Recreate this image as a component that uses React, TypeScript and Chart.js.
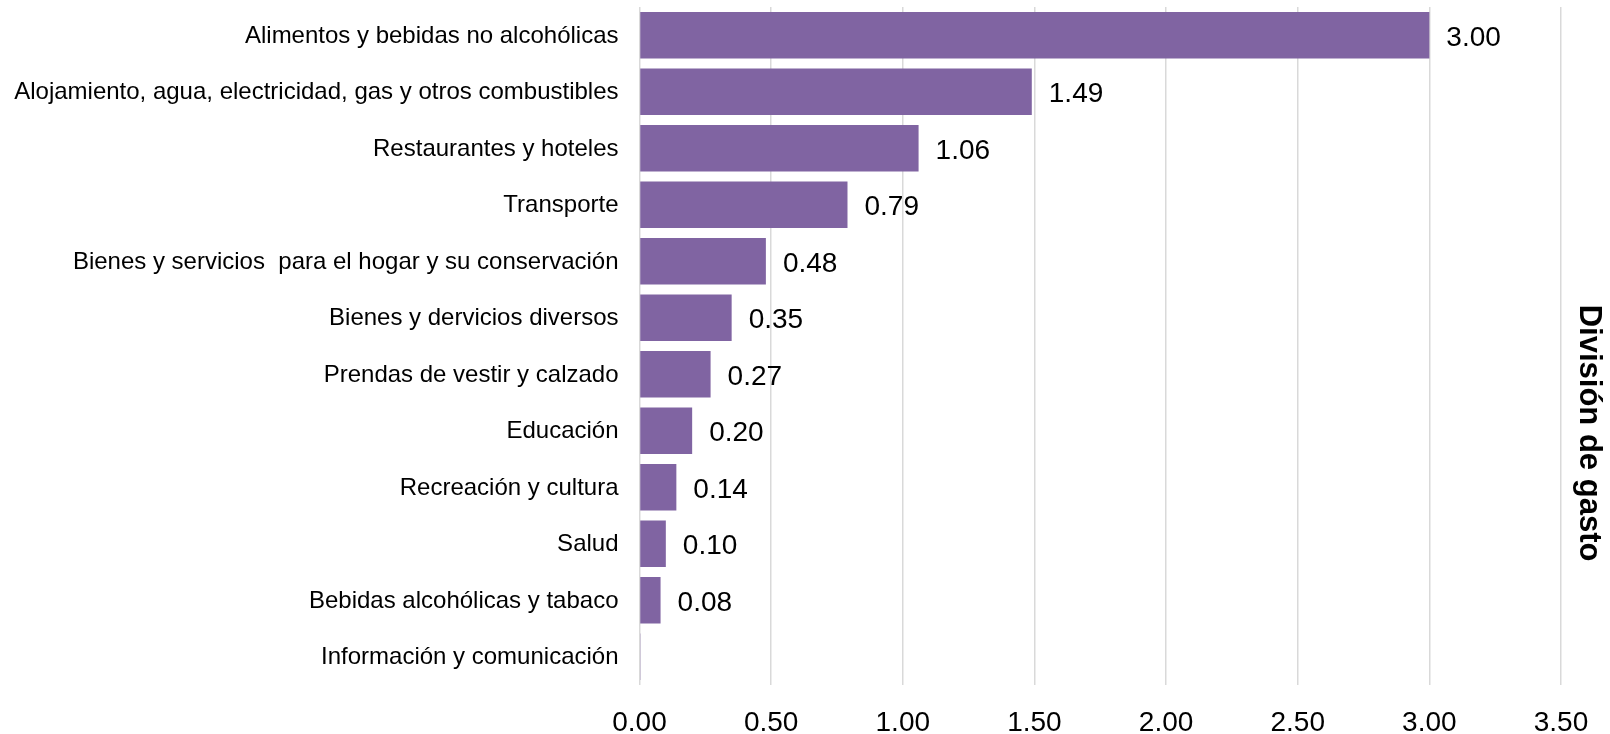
import React, { useEffect, useRef } from "react";
import { Chart, registerables } from "chart.js";

Chart.register(...registerables);

const categories = [
  "Alimentos y bebidas no alcohólicas",
  "Alojamiento, agua, electricidad, gas y otros combustibles",
  "Restaurantes y hoteles",
  "Transporte",
  "Bienes y servicios  para el hogar y su conservación",
  "Bienes y dervicios diversos",
  "Prendas de vestir y calzado",
  "Educación",
  "Recreación y cultura",
  "Salud",
  "Bebidas alcohólicas y tabaco",
  "Información y comunicación",
];

const values = [3.0, 1.49, 1.06, 0.79, 0.48, 0.35, 0.27, 0.2, 0.14, 0.1, 0.08, 0];

const xTickMin = 0;
const xTickMax = 3.5;
const xTickStep = 0.5;

const sideTitle = "División de gasto";

const FONT = "'Liberation Sans', Arial, sans-serif";

const dataLabelPlugin = {
  id: "dataLabels",
  afterDatasetsDraw(chart: any) {
    const ctx = chart.ctx;
    const meta = chart.getDatasetMeta(0);
    ctx.save();
    ctx.font = `28px ${FONT}`;
    ctx.fillStyle = "#000000";
    ctx.textAlign = "left";
    ctx.textBaseline = "middle";
    meta.data.forEach((bar: any, i: number) => {
      const v = values[i];
      if (v === 0) return;
      ctx.fillText(v.toFixed(2), bar.x + 17, bar.y + 3);
    });
    ctx.restore();
  },
};

const sideTitlePlugin = {
  id: "sideTitle",
  afterDraw(chart: any) {
    const ctx = chart.ctx;
    ctx.save();
    ctx.font = `bold 31px ${FONT}`;
    ctx.fillStyle = "#000000";
    ctx.textAlign = "center";
    ctx.textBaseline = "middle";
    ctx.translate(chart.width - 21, chart.height * 0.59);
    ctx.rotate(Math.PI / 2);
    ctx.fillText(sideTitle, 0, 0);
    ctx.restore();
  },
};

export default function App() {
  const canvasRef = useRef<HTMLCanvasElement | null>(null);

  useEffect(() => {
    if (!canvasRef.current) return;
    const chart = new Chart(canvasRef.current, {
      type: "bar",
      data: {
        labels: categories,
        datasets: [
          {
            data: values,
            backgroundColor: "#8064A2",
            borderColor: "#8064A2",
            borderWidth: 0,
            minBarLength: 1,
            barPercentage: 0.826,
            categoryPercentage: 1,
          },
        ],
      },
      plugins: [dataLabelPlugin, sideTitlePlugin],
      options: {
        indexAxis: "y",
        animation: false,
        responsive: false,
        maintainAspectRatio: false,
        layout: {
          padding: { top: 7, right: 49, left: 0, bottom: 0 },
        },
        plugins: {
          legend: { display: false },
          tooltip: { enabled: false },
          title: { display: false },
        },
        scales: {
          x: {
            min: xTickMin,
            max: xTickMax,
            border: { display: false },
            grid: {
              color: "#d9d9d9",
              lineWidth: 1.5,
              drawTicks: false,
            },
            ticks: {
              stepSize: xTickStep,
              padding: 21,
              color: "#000000",
              font: { family: FONT, size: 28 },
              callback: (v: any) => Number(v).toFixed(2),
            },
            afterFit(scale: any) {
              scale.height = 49;
              scale.paddingLeft = 0;
              scale.paddingRight = 0;
            },
          },
          y: {
            border: { display: false },
            grid: { display: false, drawTicks: false },
            ticks: {
              padding: 21,
              labelOffset: 1,
              color: "#000000",
              font: { family: FONT, size: 24 },
              autoSkip: false,
            },
            afterFit(scale: any) {
              scale.width = 639.5;
              scale.paddingTop = 0;
              scale.paddingBottom = 0;
            },
          },
        },
      },
    });
    return () => chart.destroy();
  }, []);

  return (
    <div style={{ position: "absolute", left: 0, top: 0, width: 1610, height: 734, background: "#ffffff" }}>
      <canvas ref={canvasRef} width={1610} height={734} style={{ width: 1610, height: 734 }} />
    </div>
  );
}
